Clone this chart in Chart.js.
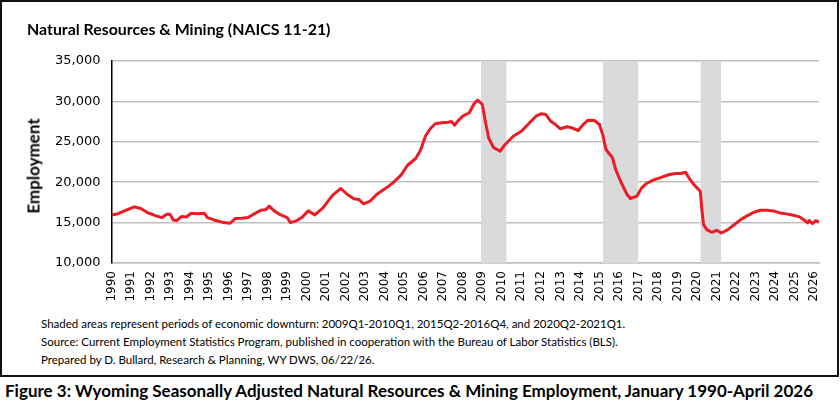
<!DOCTYPE html>
<html>
<head>
<meta charset="utf-8">
<script src="https://cdn.jsdelivr.net/npm/chart.js@4.4.1/dist/chart.umd.min.js"></script>
<style>
  body { margin: 0; background: #fff; width: 840px; height: 408px; overflow: hidden; position: relative; font-family: Lato, sans-serif; }
  #frame { position: absolute; left: 0; top: 0; width: 839px; height: 377px; border: 2px solid #111; box-sizing: border-box; }
  #wrap { position: absolute; left: 0; top: 0; width: 840px; height: 304px; }
  #title { position: absolute; left: 27px; top: 19px; font-weight: bold; font-size: 15.9px; color: #000; white-space: nowrap; }
  #ytitle { position: absolute; left: 33px; top: 166px; transform: translate(-50%, -50%) rotate(-90deg); font-weight: bold; font-size: 17px; color: #000; white-space: nowrap; }
  .note { position: absolute; left: 41px; font-size: 11.5px; color: #000; white-space: nowrap; }
  #caption { position: absolute; left: 5px; top: 380px; font-weight: bold; font-size: 17px; color: #000; white-space: nowrap; }
</style>
</head>
<body>
<div id="frame"></div>
<div id="wrap"><canvas id="chart"></canvas></div>
<div id="title">Natural Resources &amp; Mining (NAICS 11-21)</div>
<div id="ytitle">Employment</div>
<div class="note" style="top:317px">Shaded areas represent periods of economic downturn: 2009Q1-2010Q1, 2015Q2-2016Q4, and 2020Q2-2021Q1.</div>
<div class="note" style="top:335px">Source: Current Employment Statistics Program, published in cooperation with the Bureau of Labor Statistics (BLS).</div>
<div class="note" style="top:353px">Prepared by D. Bullard, Research &amp; Planning, WY DWS, 06/22/26.</div>
<div id="caption">Figure 3: Wyoming Seasonally Adjusted Natural Resources &amp; Mining Employment, January 1990-April 2026</div>
<script>
// values
const months = [
  '1990-01','1990-05','1990-09','1991-03','1991-07','1991-11','1992-04','1992-08','1992-11',
  '1993-01','1993-03','1993-05','1993-08','1993-11','1994-02','1994-06','1994-10','1994-12',
  '1995-04','1995-10','1996-02','1996-05','1996-09','1997-01','1997-05','1997-09','1997-12',
  '1998-02','1998-05','1998-09','1999-01','1999-03','1999-07','1999-10','2000-02','2000-06',
  '2000-11','2001-05','2001-10','2002-02','2002-06','2002-09','2002-12','2003-04','2003-08',
  '2004-02','2004-06','2004-11','2005-03','2005-08','2005-11','2006-02','2006-05','2006-08',
  '2006-12','2007-04','2007-06','2007-08','2007-10','2008-01','2008-05','2008-08','2008-10',
  '2009-01','2009-03','2009-05','2009-08','2009-12','2010-03','2010-08','2011-01','2011-05',
  '2011-10','2012-01','2012-04','2012-07','2012-10','2013-01','2013-05','2013-08','2013-12',
  '2014-03','2014-06','2014-10','2015-01','2015-03','2015-05','2015-09','2015-11','2016-02',
  '2016-06','2016-08','2016-12','2017-03','2017-06','2017-10','2018-03','2018-08','2018-12',
  '2019-03','2019-06','2019-08','2019-11','2020-01','2020-03','2020-04','2020-05','2020-07',
  '2020-10','2021-01','2021-04','2021-08','2021-12','2022-04','2022-08','2022-12','2023-04',
  '2023-08','2023-12','2024-04','2024-08','2025-01','2025-04','2025-07','2025-09','2025-10',
  '2025-12','2026-02','2026-04'
];
const employment = [
  15950,16100,16450,16950,16750,16250,15870,15620,16040,
  16040,15330,15250,15750,15700,16160,16100,16160,15620,
  15330,15000,14920,15500,15540,15620,16120,16540,16620,
  17040,16450,15950,15620,15000,15250,15620,16450,15950,
  16830,18400,19220,18480,17940,17860,17330,17650,18480,
  19300,19920,20870,22100,22930,23960,25690,26610,27230,
  27350,27430,27500,27060,27600,28170,28590,29740,30150,
  29620,27350,25400,24260,23840,24670,25690,26310,27140,
  28170,28470,28380,27550,27140,26610,26860,26730,26400,
  27140,27670,27630,27140,25900,24050,23020,21570,20120,
  18480,17980,18270,19300,19840,20250,20600,20950,21080,
  21080,21240,20540,19710,19300,18880,16620,14760,14130,
  13800,14050,13710,14130,14760,15380,15870,16280,16530,
  16530,16450,16200,16080,15870,15710,15290,14960,15250,
  14880,15250,15040
];
const yearTicks = [
  '1990','1991','1992','1993','1994','1995','1996','1997','1998','1999','2000','2001','2002',
  '2003','2004','2005','2006','2007','2008','2009','2010','2011','2012','2013','2014','2015',
  '2016','2017','2018','2019','2020','2021','2022','2023','2024','2025','2026'
];
const yTicks = [10000, 15000, 20000, 25000, 30000, 35000];
const downturnStart = ['2009Q1', '2015Q2', '2020Q2'];
const downturnEnd = ['2010Q1', '2016Q4', '2021Q1'];

const monthIndex = s => (parseInt(s.slice(0, 4)) - 1990) * 12 + parseInt(s.slice(5, 7)) - 1;
const quarterFirst = q => (parseInt(q.slice(0, 4)) - 1990) * 12 + (parseInt(q.slice(5)) - 1) * 3;
const lastIndex = monthIndex('2026-04');

const shading = {
  id: 'shading',
  beforeDatasetsDraw(chart) {
    const { ctx, chartArea, scales } = chart;
    ctx.save();
    ctx.fillStyle = '#d9dadc';
    downturnStart.forEach((q, i) => {
      const x1 = scales.x.getPixelForValue(quarterFirst(q) - 0.8);
      const x2 = scales.x.getPixelForValue(quarterFirst(downturnEnd[i]) + 2 + 0.8);
      ctx.fillRect(x1, chartArea.top, x2 - x1, chartArea.bottom - chartArea.top);
    });
    ctx.restore();
  }
};

new Chart(document.getElementById('chart'), {
  type: 'line',
  data: {
    datasets: [{
      data: months.map((m, i) => ({ x: monthIndex(m), y: employment[i] })),
      borderColor: '#ed1c24',
      borderWidth: 3,
      pointRadius: 0,
      borderJoinStyle: 'round',
      tension: 0
    }]
  },
  options: {
    responsive: true,
    maintainAspectRatio: false,
    animation: false,
    layout: { padding: { left: 0, right: 21, top: 61, bottom: 0 } },
    plugins: { legend: { display: false }, tooltip: { enabled: false } },
    scales: {
      x: {
        type: 'linear',
        min: 0,
        max: lastIndex,
        afterFit(scale) { scale.height = 41; },
        grid: { display: false, drawTicks: false },
        border: { display: true, color: '#bfbfbf', width: 1.5 },
        ticks: {
          stepSize: 12,
          includeBounds: false,
          autoSkip: false,
          minRotation: 90,
          maxRotation: 90,
          padding: 8,
          color: '#000',
          font: { family: 'DejaVu Sans', size: 12 },
          callback: v => yearTicks[v / 12]
        }
      },
      y: {
        min: yTicks[0],
        max: yTicks[yTicks.length - 1],
        afterFit(scale) { scale.width = 111.5; },
        afterBuildTicks(scale) { scale.ticks = yTicks.map(v => ({ value: v })); },
        grid: { color: '#c0c0c0', lineWidth: 1.5, drawTicks: false },
        border: { display: true, color: '#000', width: 1.5 },
        ticks: {
          padding: 11,
          color: '#000',
          font: { family: 'DejaVu Sans', size: 13 },
          callback: v => v.toLocaleString('en-US')
        }
      }
    }
  },
  plugins: [shading]
});
</script>
</body>
</html>
